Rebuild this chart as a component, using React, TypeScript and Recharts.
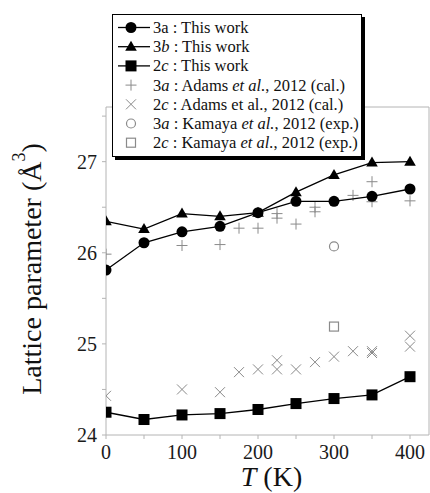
import React from 'react';
import { ScatterChart, Scatter, XAxis, YAxis } from 'recharts';

// temperatures (K) for this work
const temps = [0, 50, 100, 150, 200, 250, 300, 350, 400];
const a3This = [25.81, 26.11, 26.23, 26.29, 26.44, 26.565, 26.565, 26.62, 26.7];
const b3This = [26.345, 26.26, 26.43, 26.4, 26.44, 26.665, 26.855, 26.99, 27.0];
const c2This = [24.25, 24.17, 24.22, 24.235, 24.28, 24.345, 24.4, 24.44, 24.64];

// Adams et al. 2012 (cal.)
const adamsATemps = [0, 100, 150, 175, 200, 225, 225, 250, 275, 275, 325, 350, 350, 400];
const adamsAVals = [25.985, 26.08, 26.09, 26.27, 26.27, 26.43, 26.38, 26.315, 26.5, 26.45, 26.63, 26.78, 26.56, 26.57];
const adamsCTemps = [0, 100, 150, 175, 200, 225, 225, 250, 275, 300, 325, 350, 350, 400, 400];
const adamsCVals = [24.43, 24.5, 24.47, 24.69, 24.72, 24.82, 24.72, 24.72, 24.8, 24.86, 24.92, 24.92, 24.9, 25.09, 24.97];

// Kamaya et al. 2012 (exp.)
const kamayaTemps = [300];
const kamayaA = [26.07];
const kamayaC = [25.19];

const xTicks = [0, 50, 100, 150, 200, 250, 300, 350, 400];
const yTicks = [24, 24.5, 25, 25.5, 26, 26.5, 27, 27.5];

const toPoints = (xs: number[], ys: number[]) => xs.map((x, i) => ({ x, y: ys[i] }));

const FONT = 'Liberation Serif, Times New Roman, Tinos, Times, serif';
const GRAY = '#8a8a8a';
const AXIS = '#b4b4b4';

type MarkerProps = { kind: string; cx: number; cy: number };

const Marker = ({ kind, cx, cy }: MarkerProps) => {
  switch (kind) {
    case 'circle':
      return <circle cx={cx} cy={cy} r={5.5} fill="#000" />;
    case 'triangle':
      return <polygon points={`${cx},${cy - 6} ${cx - 5.8},${cy + 4} ${cx + 5.8},${cy + 4}`} fill="#000" />;
    case 'square':
      return <rect x={cx - 5.5} y={cy - 5.5} width={11} height={11} fill="#000" />;
    case 'plus':
      return (
        <g stroke={GRAY} strokeWidth={1}>
          <line x1={cx - 5.5} y1={cy} x2={cx + 5.5} y2={cy} />
          <line x1={cx} y1={cy - 5.5} x2={cx} y2={cy + 5.5} />
        </g>
      );
    case 'cross':
      return (
        <g stroke={GRAY} strokeWidth={1}>
          <line x1={cx - 5} y1={cy - 5} x2={cx + 5} y2={cy + 5} />
          <line x1={cx - 5} y1={cy + 5} x2={cx + 5} y2={cy - 5} />
        </g>
      );
    case 'ocircle':
      return <circle cx={cx} cy={cy} r={4.5} fill="#fff" stroke={GRAY} strokeWidth={1.2} />;
    case 'osquare':
      return <rect x={cx - 4.5} y={cy - 4.5} width={9} height={9} fill="#fff" stroke={GRAY} strokeWidth={1.2} />;
    default:
      return null;
  }
};

const shapeOf = (kind: string) => (p: any) => <Marker kind={kind} cx={p.cx} cy={p.cy} />;

const legendRows = [
  { kind: 'circle', line: true, parts: [['3a : This work', false]] },
  { kind: 'triangle', line: true, parts: [['3', false], ['b', true], [' : This work', false]] },
  { kind: 'square', line: true, parts: [['2', false], ['c', true], [' : This work', false]] },
  { kind: 'plus', line: false, parts: [['3', false], ['a', true], [' : Adams ', false], ['et al.', true], [', 2012 (cal.)', false]] },
  { kind: 'cross', line: false, parts: [['2', false], ['c', true], [' : Adams et al., 2012 (cal.)', false]] },
  { kind: 'ocircle', line: false, parts: [['3', false], ['a', true], [' : Kamaya ', false], ['et al.', true], [', 2012 (exp.)', false]] },
  { kind: 'osquare', line: false, parts: [['2', false], ['c', true], [' : Kamaya ', false], ['et al.', true], [', 2012 (exp.)', false]] },
] as { kind: string; line: boolean; parts: [string, boolean][] }[];

const LegendBox = () => (
  <div
    style={{
      position: 'absolute',
      left: 112,
      top: 14,
      width: 250,
      height: 143,
      boxSizing: 'border-box',
      border: '1.5px solid #000',
      boxShadow: '3px 3px 0 #000',
      background: '#fff',
    }}
  >
    <svg width={247} height={140} style={{ display: 'block' }}>
      {legendRows.map((row, i) => {
        const y = 12.5 + i * 19.2;
        return (
          <g key={i}>
            {row.line && <line x1={5} y1={y} x2={37} y2={y} stroke="#000" strokeWidth={1.3} />}
            <Marker kind={row.kind} cx={18} cy={y} />
            <text x={40} y={y + 5.5} fontFamily={FONT} fontSize={16.5} fill="#111">
              {row.parts.map(([t, it], j) => (
                <tspan key={j} fontStyle={it ? 'italic' : 'normal'}>
                  {t}
                </tspan>
              ))}
            </text>
          </g>
        );
      })}
    </svg>
  </div>
);

const YLabel = (props: any) => {
  const vb = props.viewBox;
  const cx = 31;
  const cy = vb.y + vb.height / 2 - 2;
  return (
    <text x={cx} y={cy} transform={`rotate(-90, ${cx}, ${cy})`} textAnchor="middle" dominantBaseline="central" fontFamily={FONT} fontSize={28} fill="#111">
      Lattice parameter (Å
      <tspan dy={-12} fontSize={18}>3</tspan>
      <tspan dy={12}>)</tspan>
    </text>
  );
};

const XLabel = (props: any) => {
  const vb = props.viewBox;
  return (
    <text x={vb.x + vb.width / 2 + 4} y={486} textAnchor="middle" fontFamily={FONT} fontSize={28} fill="#111">
      <tspan fontStyle="italic">T</tspan> (K)
    </text>
  );
};

const tickStyle = { fontSize: 20, fontFamily: FONT, fill: '#1a1a1a' };

export default function App() {
  return (
    <div style={{ position: 'absolute', left: 0, top: 0, width: 430, height: 493, background: '#fff' }}>
      <ScatterChart width={430} height={493} margin={{ top: 107, right: 1, bottom: 0, left: 0 }}>
        <XAxis
          type="number"
          dataKey="x"
          domain={[0, 425]}
          ticks={xTicks}
          tickFormatter={(v: number) => (v % 100 === 0 ? String(v) : '')}
          height={58}
          tick={tickStyle}
          tickSize={4}
          tickMargin={6}
          stroke={AXIS}
          allowDataOverflow
          label={{ content: XLabel }}
        />
        <XAxis
          xAxisId="top"
          orientation="top"
          type="number"
          dataKey="x"
          domain={[0, 425]}
          ticks={xTicks}
          tickFormatter={() => ''}
          height={1}
          mirror
          tickSize={4}
          stroke={AXIS}
        />
        <YAxis
          type="number"
          dataKey="y"
          domain={[24, 27.6]}
          ticks={yTicks}
          tickFormatter={(v: number) => (v % 1 === 0 ? String(v) : '')}
          width={106}
          tick={tickStyle}
          tickSize={4}
          tickMargin={5}
          stroke={AXIS}
          allowDataOverflow
          label={{ content: YLabel }}
        />
        <YAxis
          yAxisId="right"
          orientation="right"
          type="number"
          dataKey="y"
          domain={[24, 27.6]}
          ticks={yTicks}
          tickFormatter={() => ''}
          width={1}
          mirror
          tickSize={4}
          stroke={AXIS}
        />
        <Scatter data={toPoints(adamsATemps, adamsAVals)} shape={shapeOf('plus')} isAnimationActive={false} />
        <Scatter data={toPoints(adamsCTemps, adamsCVals)} shape={shapeOf('cross')} isAnimationActive={false} />
        <Scatter data={toPoints(kamayaTemps, kamayaA)} shape={shapeOf('ocircle')} isAnimationActive={false} />
        <Scatter data={toPoints(kamayaTemps, kamayaC)} shape={shapeOf('osquare')} isAnimationActive={false} />
        <Scatter data={toPoints(temps, a3This)} line={{ stroke: '#000', strokeWidth: 1.3 }} shape={shapeOf('circle')} isAnimationActive={false} />
        <Scatter data={toPoints(temps, b3This)} line={{ stroke: '#000', strokeWidth: 1.3 }} shape={shapeOf('triangle')} isAnimationActive={false} />
        <Scatter data={toPoints(temps, c2This)} line={{ stroke: '#000', strokeWidth: 1.3 }} shape={shapeOf('square')} isAnimationActive={false} />
      </ScatterChart>
      <LegendBox />
    </div>
  );
}
